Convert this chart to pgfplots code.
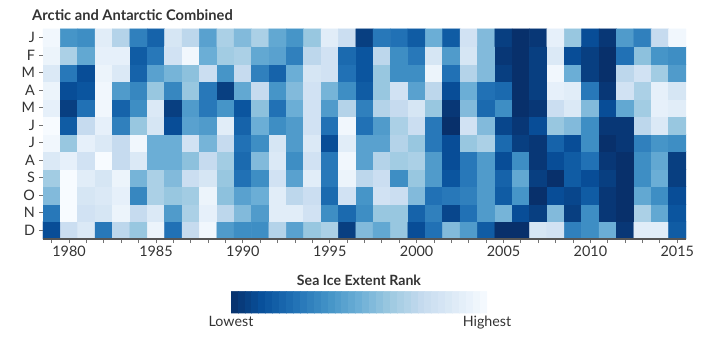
\documentclass[border=0pt]{standalone}
\usepackage{pgfplots}
\pgfplotsset{compat=1.18}
\usepackage{fontspec}
\setmainfont{Lato}
\usetikzlibrary{calc}
\definecolor{txt}{HTML}{333333}
\definecolor{axgray}{HTML}{555555}
\begin{document}
\begin{tikzpicture}
\useasboundingbox (-32.25pt,-72.75pt) rectangle (507.75pt,179.25pt);
\begin{axis}[
  at={(0,0)}, anchor=south west,
  scale only axis, width=482.25pt, height=157.5pt,
  xmin=1978.5, xmax=2015.5, ymin=-0.5, ymax=11.5,
  enlargelimits=false,
  axis on top,
  axis x line*=bottom, axis y line*=left,
  y axis line style={draw=none},
  x axis line style={draw=axgray, line width=1.2pt},
  xtick={1980,1985,1990,1995,2000,2005,2010,2015},
  xticklabels={1980,1985,1990,1995,2000,2005,2010,2015},
  minor xtick={1979,...,2015},
  ytick={0,...,11},
  yticklabels={D,N,O,S,A,J,J,M,A,M,F,J},
  tick align=outside,
  major tick length=3pt, minor tick length=3pt,
  every tick/.style={draw=black!55, line width=0.6pt},
  tick label style={font=\fontsize{10.8}{12}\selectfont, text=txt},
  xticklabel style={yshift=1.5pt},
  yticklabel style={xshift=0.5pt},
  title={Arctic and Antarctic Combined},
  title style={font=\bfseries\fontsize{11}{13}\selectfont, text=txt, at={(0,1)}, anchor=base west, xshift=-11.6pt, yshift=0pt},
  colormap={bluesr}{rgb255=(8,48,107) rgb255=(8,81,156) rgb255=(33,113,181) rgb255=(66,146,198) rgb255=(107,174,214) rgb255=(158,202,225) rgb255=(198,219,239) rgb255=(222,235,247) rgb255=(247,251,255)},
  point meta min=1, point meta max=37,
  colorbar horizontal,
  colorbar sampled,
  colorbar style={
    samples=38,
    at={($(parent axis.south west)+(141pt,-30.75pt)$)}, anchor=north west,
    scale only axis, width=192pt, height=16.5pt,
    xtick={1,37}, xticklabels={Lowest,Highest},
    major tick length=0pt,
    axis line style={draw=none},
    xticklabel style={font=\fontsize{10.7}{12}\selectfont, text=txt, yshift=1pt, text height=0.72em, text depth=0.22em},
    title={Sea Ice Extent Rank},
    title style={font=\bfseries\fontsize{10.6}{12}\selectfont, text=txt, at={(0.5,1)}, anchor=base, yshift=-1.5pt},
  },
]
\addplot[matrix plot*, mesh/cols=37, mesh/rows=12, point meta=explicit] coordinates {
(1979,0)[5] (1980,0)[29] (1981,0)[32] (1982,0)[11] (1983,0)[27] (1984,0)[23] (1985,0)[35] (1986,0)[10] (1987,0)[28] (1988,0)[36] (1989,0)[16] (1990,0)[14] (1991,0)[14] (1992,0)[26] (1993,0)[17] (1994,0)[23] (1995,0)[25] (1996,0)[3] (1997,0)[21] (1998,0)[18] (1999,0)[23] (2000,0)[5] (2001,0)[10] (2002,0)[21] (2003,0)[16] (2004,0)[7] (2005,0)[1] (2006,0)[1] (2007,0)[31] (2008,0)[30] (2009,0)[12] (2010,0)[14] (2011,0)[19] (2012,0)[2] (2013,0)[33] (2014,0)[33] (2015,0)[7]

(1979,1)[11] (1980,1)[37] (1981,1)[30] (1982,1)[31] (1983,1)[35] (1984,1)[28] (1985,1)[32] (1986,1)[16] (1987,1)[25] (1988,1)[34] (1989,1)[27] (1990,1)[21] (1991,1)[16] (1992,1)[33] (1993,1)[33] (1994,1)[30] (1995,1)[14] (1996,1)[9] (1997,1)[14] (1998,1)[23] (1999,1)[23] (2000,1)[8] (2001,1)[12] (2002,1)[4] (2003,1)[10] (2004,1)[16] (2005,1)[20] (2006,1)[5] (2007,1)[3] (2008,1)[21] (2009,1)[3] (2010,1)[14] (2011,1)[2] (2012,1)[1] (2013,1)[25] (2014,1)[18] (2015,1)[6]

(1979,2)[21] (1980,2)[37] (1981,2)[31] (1982,2)[32] (1983,2)[34] (1984,2)[13] (1985,2)[25] (1986,2)[23] (1987,2)[24] (1988,2)[35] (1989,2)[22] (1990,2)[17] (1991,2)[19] (1992,2)[33] (1993,2)[27] (1994,2)[29] (1995,2)[9] (1996,2)[30] (1997,2)[15] (1998,2)[30] (1999,2)[29] (2000,2)[21] (2001,2)[10] (2002,2)[11] (2003,2)[12] (2004,2)[16] (2005,2)[7] (2006,2)[15] (2007,2)[1] (2008,2)[5] (2009,2)[4] (2010,2)[7] (2011,2)[2] (2012,2)[1] (2013,2)[18] (2014,2)[14] (2015,2)[5]

(1979,3)[24] (1980,3)[37] (1981,3)[33] (1982,3)[31] (1983,3)[35] (1984,3)[20] (1985,3)[25] (1986,3)[21] (1987,3)[29] (1988,3)[31] (1989,3)[23] (1990,3)[10] (1991,3)[14] (1992,3)[30] (1993,3)[17] (1994,3)[33] (1995,3)[11] (1996,3)[35] (1997,3)[27] (1998,3)[29] (1999,3)[14] (2000,3)[23] (2001,3)[16] (2002,3)[6] (2003,3)[11] (2004,3)[16] (2005,3)[8] (2006,3)[18] (2007,3)[3] (2008,3)[1] (2009,3)[7] (2010,3)[5] (2011,3)[3] (2012,3)[1] (2013,3)[14] (2014,3)[19] (2015,3)[3]

(1979,4)[32] (1980,4)[34] (1981,4)[30] (1982,4)[37] (1983,4)[28] (1984,4)[32] (1985,4)[19] (1986,4)[19] (1987,4)[22] (1988,4)[28] (1989,4)[24] (1990,4)[9] (1991,4)[21] (1992,4)[32] (1993,4)[14] (1994,4)[30] (1995,4)[11] (1996,4)[36] (1997,4)[17] (1998,4)[26] (1999,4)[24] (2000,4)[25] (2001,4)[16] (2002,4)[5] (2003,4)[11] (2004,4)[16] (2005,4)[5] (2006,4)[14] (2007,4)[2] (2008,4)[5] (2009,4)[7] (2010,4)[10] (2011,4)[2] (2012,4)[1] (2013,4)[14] (2014,4)[18] (2015,4)[3]

(1979,5)[36] (1980,5)[23] (1981,5)[34] (1982,5)[32] (1983,5)[28] (1984,5)[36] (1985,5)[19] (1986,5)[19] (1987,5)[30] (1988,5)[20] (1989,5)[28] (1990,5)[10] (1991,5)[14] (1992,5)[31] (1993,5)[16] (1994,5)[32] (1995,5)[5] (1996,5)[33] (1997,5)[17] (1998,5)[17] (1999,5)[26] (2000,5)[23] (2001,5)[11] (2002,5)[5] (2003,5)[23] (2004,5)[25] (2005,5)[9] (2006,5)[3] (2007,5)[2] (2008,5)[8] (2009,5)[5] (2010,5)[14] (2011,5)[1] (2012,5)[2] (2013,5)[12] (2014,5)[15] (2015,5)[14]

(1979,6)[37] (1980,6)[7] (1981,6)[28] (1982,6)[34] (1983,6)[12] (1984,6)[23] (1985,6)[31] (1986,6)[5] (1987,6)[17] (1988,6)[16] (1989,6)[33] (1990,6)[8] (1991,6)[19] (1992,6)[14] (1993,6)[16] (1994,6)[30] (1995,6)[10] (1996,6)[36] (1997,6)[10] (1998,6)[16] (1999,6)[25] (2000,6)[29] (2001,6)[11] (2002,6)[1] (2003,6)[30] (2004,6)[21] (2005,6)[4] (2006,6)[2] (2007,6)[5] (2008,6)[23] (2009,6)[21] (2010,6)[14] (2011,6)[2] (2012,6)[2] (2013,6)[27] (2014,6)[32] (2015,6)[23]

(1979,7)[34] (1980,7)[3] (1981,7)[10] (1982,7)[36] (1983,7)[8] (1984,7)[14] (1985,7)[32] (1986,7)[3] (1987,7)[16] (1988,7)[11] (1989,7)[15] (1990,7)[6] (1991,7)[22] (1992,7)[10] (1993,7)[19] (1994,7)[30] (1995,7)[16] (1996,7)[26] (1997,7)[12] (1998,7)[26] (1999,7)[28] (2000,7)[31] (2001,7)[23] (2002,7)[2] (2003,7)[21] (2004,7)[9] (2005,7)[14] (2006,7)[1] (2007,7)[2] (2008,7)[29] (2009,7)[32] (2010,7)[21] (2011,7)[5] (2012,7)[18] (2013,7)[24] (2014,7)[34] (2015,7)[33]

(1979,8)[35] (1980,8)[5] (1981,8)[6] (1982,8)[36] (1983,8)[16] (1984,8)[13] (1985,8)[23] (1986,8)[13] (1987,8)[23] (1988,8)[11] (1989,8)[3] (1990,8)[18] (1991,8)[28] (1992,8)[15] (1993,8)[21] (1994,8)[30] (1995,8)[20] (1996,8)[14] (1997,8)[7] (1998,8)[23] (1999,8)[30] (2000,8)[17] (2001,8)[27] (2002,8)[5] (2003,8)[19] (2004,8)[10] (2005,8)[9] (2006,8)[1] (2007,8)[3] (2008,8)[34] (2009,8)[33] (2010,8)[11] (2011,8)[2] (2012,8)[30] (2013,8)[25] (2014,8)[34] (2015,8)[31]

(1979,9)[32] (1980,9)[11] (1981,9)[5] (1982,9)[35] (1983,9)[32] (1984,9)[8] (1985,9)[17] (1986,9)[20] (1987,9)[22] (1988,9)[29] (1989,9)[15] (1990,9)[28] (1991,9)[12] (1992,9)[8] (1993,9)[19] (1994,9)[31] (1995,9)[30] (1996,9)[10] (1997,9)[6] (1998,9)[23] (1999,9)[14] (2000,9)[14] (2001,9)[35] (2002,9)[10] (2003,9)[26] (2004,9)[21] (2005,9)[3] (2006,9)[1] (2007,9)[3] (2008,9)[36] (2009,9)[19] (2010,9)[3] (2011,9)[1] (2012,9)[27] (2013,9)[30] (2014,9)[24] (2015,9)[16]

(1979,10)[35] (1980,10)[25] (1981,10)[18] (1982,10)[34] (1983,10)[34] (1984,10)[7] (1985,10)[11] (1986,10)[30] (1987,10)[36] (1988,10)[19] (1989,10)[24] (1990,10)[25] (1991,10)[18] (1992,10)[17] (1993,10)[12] (1994,10)[27] (1995,10)[30] (1996,10)[9] (1997,10)[6] (1998,10)[27] (1999,10)[14] (2000,10)[11] (2001,10)[31] (2002,10)[16] (2003,10)[31] (2004,10)[21] (2005,10)[2] (2006,10)[1] (2007,10)[3] (2008,10)[32] (2009,10)[5] (2010,10)[3] (2011,10)[1] (2012,10)[10] (2013,10)[22] (2014,10)[15] (2015,10)[14]

(1979,11)[36] (1980,11)[15] (1981,11)[14] (1982,11)[33] (1983,11)[26] (1984,11)[12] (1985,11)[8] (1986,11)[31] (1987,11)[27] (1988,11)[17] (1989,11)[25] (1990,11)[21] (1991,11)[25] (1992,11)[18] (1993,11)[15] (1994,11)[23] (1995,11)[33] (1996,11)[29] (1997,11)[3] (1998,11)[11] (1999,11)[10] (2000,11)[7] (2001,11)[19] (2002,11)[7] (2003,11)[30] (2004,11)[21] (2005,11)[3] (2006,11)[1] (2007,11)[2] (2008,11)[34] (2009,11)[23] (2010,11)[5] (2011,11)[2] (2012,11)[16] (2013,11)[12] (2014,11)[28] (2015,11)[36]
};
\end{axis}
\end{tikzpicture}
\end{document}
